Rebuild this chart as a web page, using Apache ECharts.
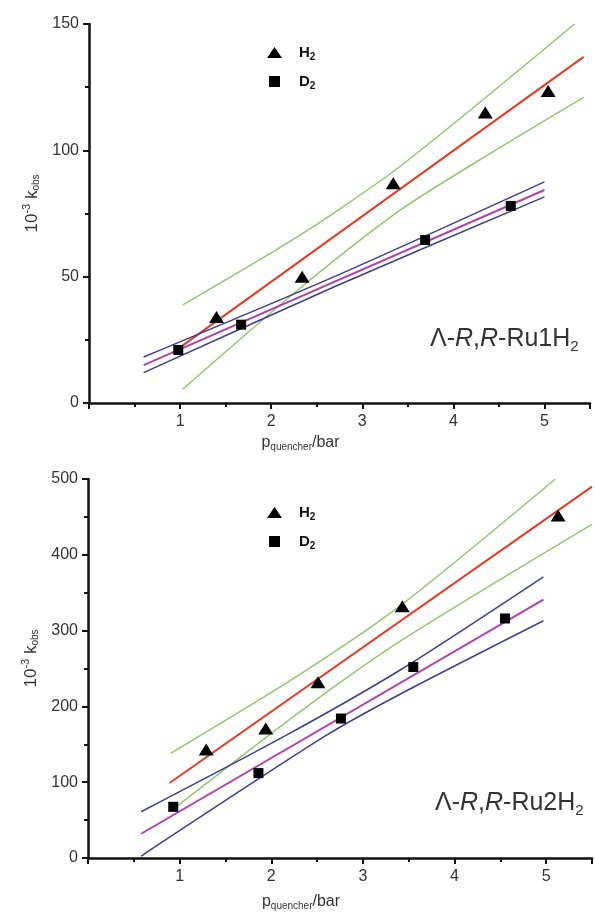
<!DOCTYPE html>
<html>
<head>
<meta charset="utf-8">
<script src="https://cdn.jsdelivr.net/npm/echarts@6/dist/echarts.min.js"></script>
<style>
  html, body { margin: 0; padding: 0; background: #fff; }
  #main { width: 595px; height: 912px; }
</style>
</head>
<body>
<div id="main"></div>
<script>
// top panel: Λ-R,R-Ru1H2   [p (bar), 10^-3 kobs]
var ru1H2 = [[1.40, 34], [2.34, 50], [3.34, 87], [4.35, 115], [5.04, 123.5]];
var ru1D2 = [[0.98, 21], [1.67, 31], [3.69, 64.5], [4.63, 78]];
var ru1H2Fit = [[1.0, 22], [5.43, 137]];
var ru1H2Upper = [[1.03, 38.8], [2.32, 66.5], [3.42, 93.8], [5.33, 150]];
var ru1H2Lower = [[1.03, 5.5], [2.32, 45.5], [3.42, 76.4], [4.46, 100], [5.43, 121]];
var ru1D2Fit = [[0.6, 15], [5.0, 84.3]];
var ru1D2Upper = [[0.6, 18.2], [2.7, 50.1], [5.0, 87.5]];
var ru1D2Lower = [[0.6, 12], [2.7, 46.1], [5.0, 81.6]];

// bottom panel: Λ-R,R-Ru2H2
var ru2H2 = [[1.29, 143], [1.94, 171], [2.51, 232], [3.43, 332], [5.13, 452]];
var ru2D2 = [[0.93, 67.5], [1.86, 112], [2.76, 184], [3.55, 252], [4.55, 316]];
var ru2H2Fit = [[0.89, 99], [5.5, 490]];
var ru2H2Upper = [[0.9, 138], [2.27, 239], [3.42, 334], [5.1, 500]];
var ru2H2Lower = [[0.92, 63.6], [2.32, 193.5], [3.42, 287], [5.5, 440]];
var ru2D2Fit = [[0.58, 32], [4.97, 341]];
var ru2D2Upper = [[0.58, 61], [2.15, 161], [3.42, 249], [4.97, 371]];
var ru2D2Lower = [[0.58, 2.6], [2.59, 161], [3.42, 217], [4.97, 313]];

var yMax = [150, 500];
var yStep = [50, 100];
var labels = ['{n|Λ-}{i|R}{n|,}{i|R}{n|-Ru1H}{s|2}', '{n|Λ-}{i|R}{n|,}{i|R}{n|-Ru2H}{s|2}'];

var RED = '#e63a22', GREEN = '#93c66f', BLUE = '#3e3f8e', MAGENTA = '#b441aa';
var FONT = 'Liberation Sans';

var myChart = echarts.init(document.getElementById('main'));

function xAxisOf(i) {
    return {
        type: 'value', gridIndex: i, min: 0, max: 5.5, interval: 1,
        name: 'p{s|quencher}/bar', nameLocation: 'middle', nameGap: i == 0 ? 30 : 34,
        nameTextStyle: {
            fontFamily: FONT, fontSize: 16, color: '#333', padding: [0, 78, 0, 0],
            rich: { s: { fontFamily: FONT, fontSize: 10, color: '#333', padding: [9, 0, 0, 0] } }
        },
        axisLine: { lineStyle: { color: '#111', width: 2.5 } },
        axisTick: { length: 6, lineStyle: { color: '#111', width: 2 } },
        minorTick: { show: true, splitNumber: 2, length: 4, lineStyle: { color: '#111', width: 2 } },
        splitLine: { show: false },
        axisLabel: {
            fontFamily: FONT, fontSize: 16, color: '#333', margin: 11,
            formatter: function (v) { return (v > 0 && v % 1 === 0) ? String(v) : ''; }
        }
    };
}

function yAxisOf(i) {
    return {
        type: 'value', gridIndex: i, min: 0, max: yMax[i], interval: yStep[i],
        name: '10{sup|-3} k{sub|obs}', nameLocation: 'middle', nameGap: 46, nameRotate: 90,
        nameTextStyle: {
            fontFamily: FONT, fontSize: 17, color: '#333', padding: [0, 0, 0, 20],
            rich: {
                sup: { fontFamily: FONT, fontSize: 11, color: '#333', padding: [0, 0, 10, 0] },
                sub: { fontFamily: FONT, fontSize: 10, color: '#333', padding: [9, 0, 0, 0] }
            }
        },
        axisLine: { show: true, lineStyle: { color: '#111', width: 2.5 } },
        axisTick: { show: true, length: 6, lineStyle: { color: '#111', width: 2 } },
        minorTick: { show: true, splitNumber: 2, length: 4, lineStyle: { color: '#111', width: 2 } },
        splitLine: { show: false },
        axisLabel: { fontFamily: FONT, fontSize: 16, color: '#333', margin: 10 }
    };
}

function lineOf(i, data, color, width) {
    return {
        type: 'line', xAxisIndex: i, yAxisIndex: i, data: data,
        smooth: data.length > 2 ? 0.25 : false,
        showSymbol: false, silent: true,
        lineStyle: { color: color, width: width }, z: 2
    };
}

function scatterOf(i, name, data, symbol, size) {
    return {
        type: 'scatter', name: name, xAxisIndex: i, yAxisIndex: i, data: data,
        symbol: symbol, symbolSize: size, itemStyle: { color: '#000', opacity: 1 }, z: 5
    };
}

function legendOf(i, top) {
    return {
        left: 262, top: top, orient: 'vertical', itemGap: 12,
        itemWidth: 15, itemHeight: 11, selectedMode: false,
        data: [
            { name: 'H2', icon: 'triangle', itemStyle: { color: '#000', opacity: 1 } },
            { name: 'D2', icon: 'path://M0,0H10V10H0Z', itemStyle: { color: '#000', opacity: 1 } }
        ],
        formatter: function (n) { return n.charAt(0) + '{s|2}'; },
        textStyle: {
            fontFamily: FONT, fontSize: 15, fontWeight: 'bold', color: '#111', padding: [0, 0, 0, 12],
            rich: { s: { fontFamily: FONT, fontSize: 10, fontWeight: 'bold', color: '#111', padding: [9, 0, 0, 0] } }
        }
    };
}

var option = {
    backgroundColor: '#fff',
    animation: false,
    grid: [
        { left: 89, top: 24, width: 501, height: 379 },
        { left: 88, top: 479, width: 506, height: 385 }
    ],
    legend: [legendOf(0, 40), legendOf(1, 500)],
    xAxis: [xAxisOf(0), xAxisOf(1)],
    yAxis: [yAxisOf(0), yAxisOf(1)],
    graphic: [0, 1].map(function (i) {
        return {
            type: 'text', left: i == 0 ? 430 : 435, top: i == 0 ? 327 : 791,
            style: {
                text: labels[i], fill: '#333', font: '25px "Liberation Sans"',
                rich: {
                    n: { fontFamily: FONT, fontSize: 25, fontStyle: 'normal', fill: '#333' },
                    i: { fontFamily: FONT, fontSize: 25, fontStyle: 'italic', fill: '#333' },
                    s: { fontFamily: FONT, fontSize: 15, fill: '#333', padding: [15, 0, 0, 0] }
                }
            }
        };
    }),
    series: [
        lineOf(0, ru1H2Upper, GREEN, 1.5),
        lineOf(0, ru1H2Lower, GREEN, 1.5),
        lineOf(0, ru1H2Fit, RED, 2),
        lineOf(0, ru1D2Upper, BLUE, 1.5),
        lineOf(0, ru1D2Lower, BLUE, 1.5),
        lineOf(0, ru1D2Fit, MAGENTA, 2),
        scatterOf(0, 'H2', ru1H2, 'triangle', [15, 12]),
        scatterOf(0, 'D2', ru1D2, 'rect', [10, 10]),
        lineOf(1, ru2H2Upper, GREEN, 1.5),
        lineOf(1, ru2H2Lower, GREEN, 1.5),
        lineOf(1, ru2H2Fit, RED, 2),
        lineOf(1, ru2D2Upper, BLUE, 1.5),
        lineOf(1, ru2D2Lower, BLUE, 1.5),
        lineOf(1, ru2D2Fit, MAGENTA, 2),
        scatterOf(1, 'H2', ru2H2, 'triangle', [15, 12]),
        scatterOf(1, 'D2', ru2D2, 'rect', [10, 10])
    ]
};
myChart.setOption(option);
</script>
</body>
</html>
